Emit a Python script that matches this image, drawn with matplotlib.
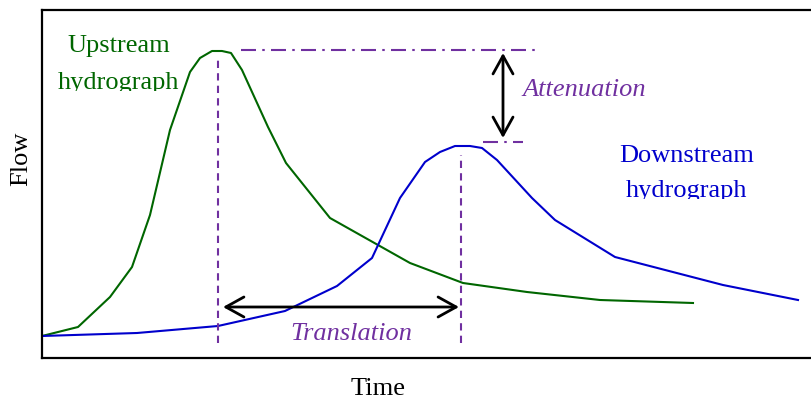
import matplotlib
matplotlib.use("Agg")
import matplotlib.pyplot as plt
from matplotlib.transforms import Bbox, TransformedBbox

plt.rcParams['font.family'] = ['Liberation Serif', 'DejaVu Serif']

# Hydrograph data (time, flow) in arbitrary units
up_time = [42, 78, 110, 132, 150, 170, 190, 200, 212, 222, 231, 242, 268, 286,
           330, 410, 463, 527, 600, 693]
up_flow = [22, 31, 61, 91, 143, 228, 286, 300, 307, 307, 305, 288, 231, 195,
           140, 95, 75, 66, 58, 55]

down_time = [42, 137, 218, 285, 337, 372, 400, 425, 440, 455, 470, 482, 497,
             532, 555, 615, 723, 798]
down_flow = [22, 25, 32, 47, 72, 100, 160, 196, 206, 212, 212, 210, 198,
             160, 138, 101, 73, 58]

# annotation guides
peak_up_t, peak_down_t = 218, 461
peak_up_q, peak_down_q = 308, 216
guide_bottom = 15
atten_x = 503
transl_q = 51

green = '#006600'
blue = '#0000CC'
purple = '#7030A0'

fig = plt.figure(figsize=(8.11, 3.99), dpi=100)
ax = fig.add_axes([42 / 811, 41 / 399, 770 / 811, 348 / 399])
ax.set_xlim(42, 812)
ax.set_ylim(0, 348)
ax.set_xticks([])
ax.set_yticks([])
ax.spines['right'].set_visible(False)
for s in ['left', 'top', 'bottom']:
    ax.spines[s].set_linewidth(1.6)

ax.plot(up_time, up_flow, color=green, lw=1.5)
ax.plot(down_time, down_flow, color=blue, lw=1.5)

# vertical dashed lines at the peaks
ax.plot([peak_up_t, peak_up_t], [guide_bottom, 301], color=purple, lw=1.5,
        linestyle=(0, (3.5, 2.5)))
ax.plot([peak_down_t, peak_down_t], [guide_bottom, 203], color=purple, lw=1.5,
        linestyle=(0, (3.5, 2.5)))

# dash-dot peak level lines
ax.plot([241, 538], [peak_up_q, peak_up_q], color=purple, lw=1.5,
        linestyle=(0, (7.2, 3, 1.2, 3)))
ax.plot([483, 523], [peak_down_q, peak_down_q], color=purple, lw=1.5,
        linestyle=(0, (7.2, 3, 1.2, 3)))

arrow = dict(arrowstyle='<->,head_length=0.65,head_width=0.36',
             lw=2, color='black', mutation_scale=20, shrinkA=0, shrinkB=0)
ax.annotate('', xy=(atten_x, 305), xytext=(atten_x, 220), arrowprops=arrow)
ax.annotate('', xy=(223, transl_q), xytext=(459, transl_q), arrowprops=arrow)

fs = 19
ax.text(119, 306, 'Upstream', color=green, fontsize=fs, ha='center', va='baseline')
t = ax.text(119, 269, 'hydrograph', color=green, fontsize=fs, ha='center', va='baseline')
t.set_clip_box(TransformedBbox(Bbox([[42, 267.5], [812, 348]]), ax.transData))
t.set_clip_on(True)

ax.text(687, 196, 'Downstream', color=blue, fontsize=fs, ha='center', va='baseline')
t = ax.text(687, 161, 'hydrograph', color=blue, fontsize=fs, ha='center', va='baseline')
t.set_clip_box(TransformedBbox(Bbox([[42, 159.5], [812, 348]]), ax.transData))
t.set_clip_on(True)

ax.text(584, 262, 'Attenuation', color=purple, fontsize=fs, style='italic',
        ha='center', va='baseline')
ax.text(351, 18, 'Translation', color=purple, fontsize=fs, style='italic',
        ha='center', va='baseline')

fig.text(378 / 811, 1 - 395 / 399, 'Time', fontsize=fs, ha='center', va='baseline')
fig.text(32 / 811, 1 - 159 / 399, 'Flow', fontsize=fs, rotation=90,
         ha='right', va='center')

fig.savefig('out.png', dpi=100)
